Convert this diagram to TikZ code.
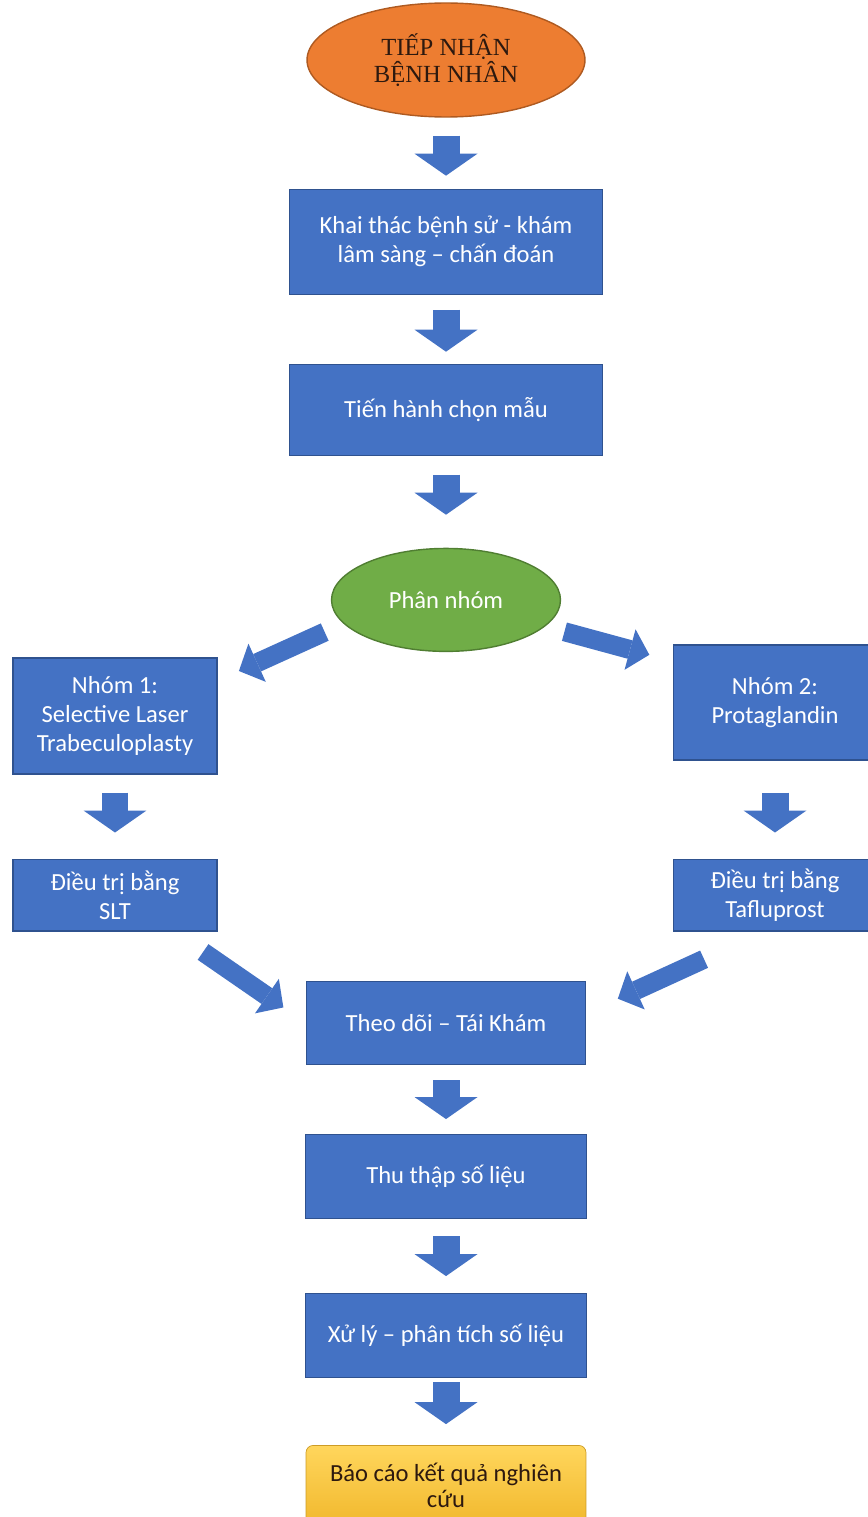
\documentclass[tikz,border=0pt]{standalone}
\usepackage{fontspec}
\setmainfont{Carlito}
\newfontfamily\titlefont{Liberation Serif}
\usetikzlibrary{
  arrows.meta,
  positioning,
  shapes.geometric
}
\definecolor{boxblue}{RGB}{68,114,196}
\definecolor{boxedge}{RGB}{47,82,143}
\definecolor{startorange}{RGB}{237,125,49}
\definecolor{startedge}{RGB}{174,90,33}
\definecolor{groupgreen}{RGB}{112,173,71}
\definecolor{groupedge}{RGB}{80,126,50}
\definecolor{goldtop}{RGB}{255,214,92}
\definecolor{goldbottom}{RGB}{241,184,45}
\definecolor{darktext}{RGB}{45,25,15}

\begin{document}
\begin{tikzpicture}[
  x=0.02cm, y=-0.02cm,
  block/.style ={draw=boxedge,line width=0.6pt,fill=boxblue,text=white,align=center,
                 inner sep=2pt,font=\fontsize{14pt}{16.5pt}\selectfont},
  oval/.style  ={ellipse,line width=0.8pt,inner sep=0pt,align=center,
                 font=\fontsize{14pt}{16.5pt}\selectfont},
  report/.style={draw=goldbottom!85!black,rounded corners=4pt,top color=goldtop,
                 bottom color=goldbottom,text=darktext,align=center,
                 minimum width=5.6cm,minimum height=1.6cm,
                 font=\fontsize{14pt}{14.5pt}\selectfont},
  arr/.style   ={boxblue,line width=0.54cm,
                 -{Triangle[length=0.44cm,width=1.26cm,line width'=0pt]}},
  darr/.style  ={boxblue,line width=0.38cm,
                 -{Triangle[length=0.40cm,width=0.84cm,line width'=0pt]}},
]
\useasboundingbox (0,0) rectangle (867,1517);

% main column
\node[oval,draw=startedge,fill=startorange,text=darktext,minimum width=5.56cm,
      minimum height=2.28cm,font=\titlefont\fontsize{14pt}{15.5pt}\selectfont]
      (tiep) at (446,60) {TIẾP NHẬN\\BỆNH NHÂN};
\node[block,minimum width=6.26cm,minimum height=2.1cm,below=1.42cm of tiep] (khai)
  {Khai thác bệnh sử - khám\\lâm sàng – chấn đoán};
\node[block,minimum width=6.26cm,minimum height=1.82cm,below=1.38cm of khai] (chon)
  {Tiến hành chọn mẫu};
\node[oval,draw=groupedge,fill=groupgreen,text=white,minimum width=4.58cm,
      minimum height=2.06cm,below=1.84cm of chon] (phan) {Phân nhóm};

% the two groups
\node[block,minimum width=4.08cm,minimum height=2.32cm] (nhom1) at (115,716)
  {Nhóm 1:\\Selective Laser\\Trabeculoplasty};
\node[block,minimum width=4.08cm,minimum height=1.44cm,below=1.68cm of nhom1] (slt)
  {Điều trị bằng\\SLT};
\node[block,minimum width=4.08cm,minimum height=2.30cm] (nhom2) at (775,702.5)
  {Nhóm 2:\\Protaglandin};
\node[block,minimum width=4.08cm,minimum height=1.44cm,below=1.96cm of nhom2] (taflu)
  {Điều trị bằng\\Tafluprost};

% follow-up and report
\node[block,minimum width=5.58cm,minimum height=1.66cm,below=6.58cm of phan] (theo)
  {Theo dõi – Tái Khám};
\node[block,minimum width=5.62cm,minimum height=1.68cm,below=1.38cm of theo] (thu)
  {Thu thập số liệu};
\node[block,minimum width=5.62cm,minimum height=1.68cm,below=1.48cm of thu] (xuly)
  {Xử lý – phân tích số liệu};
\node[report,below=1.34cm of xuly] (baocao) {Báo cáo kết quả nghiên\\cứu};

\draw[arr,shorten <=0.36cm,shorten >=0.26cm] (tiep)--(khai);
\draw[arr,shorten <=0.30cm,shorten >=0.24cm] (khai)--(chon);
\draw[arr,shorten <=0.38cm,shorten >=0.66cm] (chon)--(phan);
\draw[darr,shorten <=0.41cm,shorten >=0.47cm] (phan.193)--(nhom1.19);
\draw[darr,shorten <=0.40cm,shorten >=0.48cm] (phan.345)--(nhom2.158);
\draw[arr,shorten <=0.36cm,shorten >=0.52cm] (nhom1)--(slt);
\draw[arr,shorten <=0.64cm,shorten >=0.52cm] (nhom2)--(taflu);
\draw[darr,shorten <=0.72cm,shorten >=0.55cm] (slt.328)--(theo.west);
\draw[darr,shorten <=1.33cm,shorten >=0.70cm] (taflu.254)--(theo.4);
\draw[arr,shorten <=0.30cm,shorten >=0.30cm] (theo)--(thu);
\draw[arr,shorten <=0.34cm,shorten >=0.34cm] (thu)--(xuly);
\draw[arr,shorten <=0.08cm,shorten >=0.42cm] (xuly)--(baocao);
\end{tikzpicture}
\end{document}
